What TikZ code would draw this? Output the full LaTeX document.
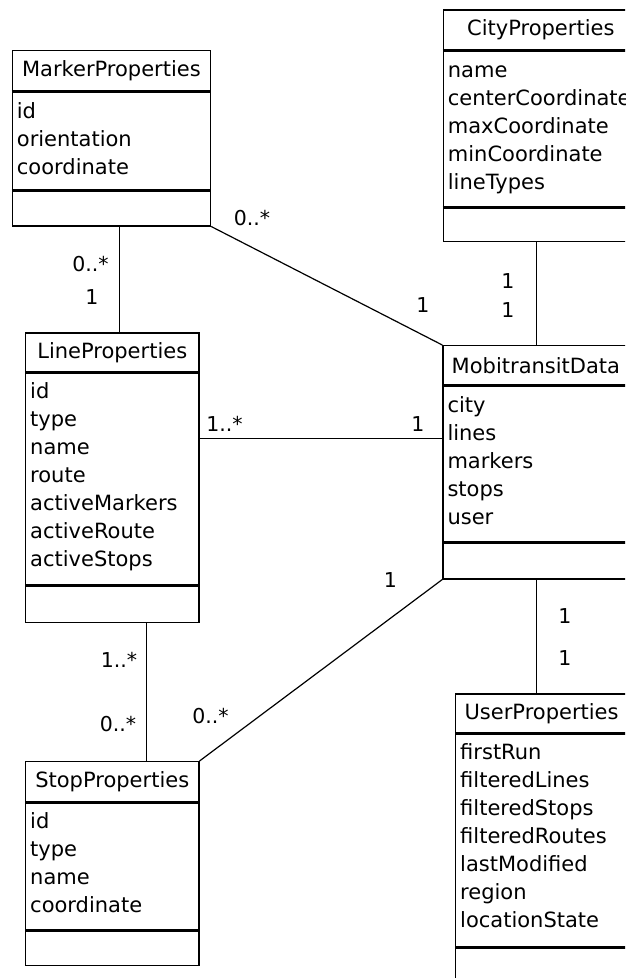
\documentclass[tikz,border=0pt]{standalone}
\usepackage{fontspec}
\setmainfont{DejaVu Sans}
\usetikzlibrary{positioning, calc}

\begin{document}
\begin{tikzpicture}[
    x=1pt, y=-1pt,
    umlclass/.style={draw, line width=1.2pt, anchor=north west, inner sep=0pt},
    classname/.style={font=\fontsize{21pt}{28pt}\selectfont, inner sep=0pt},
    attrlist/.style={font=\fontsize{21pt}{28pt}\selectfont, align=left, anchor=north west,
                     inner xsep=5pt, inner ysep=6.6pt},
    divider/.style={line width=3pt},
    assoc/.style={line width=1.2pt},
    mult/.style={font=\fontsize{20.5pt}{28pt}\selectfont, inner sep=0pt}
]
    \useasboundingbox (0,0) rectangle (625,978);
    \clip (0,0) rectangle (625,978);

    % classes
    \node[umlclass, minimum width=198.3pt, minimum height=175.3pt] (marker) at (11.7,50) {};
    \node[classname] (markertitle) at ([yshift=-20.8pt]marker.north) {MarkerProperties};
    \draw[divider] ([yshift=-41.7pt]marker.north west) -- ([yshift=-41.7pt]marker.north east);
    \draw[divider] ([yshift=-140.7pt]marker.north west) -- ([yshift=-140.7pt]marker.north east);
    \node[attrlist] (markerattrs) at ([yshift=-41.7pt]marker.north west) {\strut id\\orientation\\coordinate};

    \node[umlclass, minimum width=195pt, minimum height=231.4pt] (city) at (442.7,9.3) {};
    \node[classname] (citytitle) at ([yshift=-20.7pt]city.north) {CityProperties};
    \draw[divider] ([yshift=-41.4pt]city.north west) -- ([yshift=-41.4pt]city.north east);
    \draw[divider] ([yshift=-198pt]city.north west) -- ([yshift=-198pt]city.north east);
    \node[attrlist] (cityattrs) at ([yshift=-41.4pt]city.north west) {\strut name\\centerCoordinate\\maxCoordinate\\minCoordinate\\lineTypes};

    \node[umlclass, minimum width=173.3pt, minimum height=289.4pt] (line) at (25,332.3) {};
    \node[classname] (linetitle) at ([yshift=-20pt]line.north) {LineProperties};
    \draw[divider] ([yshift=-40pt]line.north west) -- ([yshift=-40pt]line.north east);
    \draw[divider] ([yshift=-253.4pt]line.north west) -- ([yshift=-253.4pt]line.north east);
    \node[attrlist] (lineattrs) at ([yshift=-40pt]line.north west) {\strut id\\type\\name\\route\\activeMarkers\\activeRoute\\activeStops};

    \node[umlclass, minimum width=186pt, minimum height=233.3pt] (mobi) at (442.3,345) {};
    \node[classname] (mobititle) at ([yshift=-20.3pt]mobi.north) {MobitransitData};
    \draw[divider] ([yshift=-40.7pt]mobi.north west) -- ([yshift=-40.7pt]mobi.north east);
    \draw[divider] ([yshift=-197.3pt]mobi.north west) -- ([yshift=-197.3pt]mobi.north east);
    \node[attrlist] (mobiattrs) at ([yshift=-40.7pt]mobi.north west) {\strut city\\lines\\markers\\stops\\user};

    \node[umlclass, minimum width=173.3pt, minimum height=204pt] (stop) at (25,761) {};
    \node[classname] (stoptitle) at ([yshift=-20.6pt]stop.north) {StopProperties};
    \draw[divider] ([yshift=-41.3pt]stop.north west) -- ([yshift=-41.3pt]stop.north east);
    \draw[divider] ([yshift=-169pt]stop.north west) -- ([yshift=-169pt]stop.north east);
    \node[attrlist] (stopattrs) at ([yshift=-41.3pt]stop.north west) {\strut id\\type\\name\\coordinate};

    \node[umlclass, minimum width=172pt, minimum height=290pt] (user) at (455,693.3) {};
    \node[classname] (usertitle) at ([yshift=-20pt]user.north) {UserProperties};
    \draw[divider] ([yshift=-40pt]user.north west) -- ([yshift=-40pt]user.north east);
    \draw[divider] ([yshift=-254.4pt]user.north west) -- ([yshift=-254.4pt]user.north east);
    \node[attrlist] (userattrs) at ([yshift=-40pt]user.north west) {\strut firstRun\\filteredLines\\filteredStops\\filteredRoutes\\lastModified\\region\\locationState};

    % associations
    \coordinate (ml) at ([xshift=8.4pt]marker.south);
    \coordinate (cm) at ([xshift=93.5pt]city.south west);
    \coordinate (lm) at ([yshift=-106pt]line.north east);
    \coordinate (ls) at ([xshift=34.4pt]line.south);
    \coordinate (mu) at ([xshift=94pt]mobi.south west);
    \draw[assoc] (ml) -- (ml |- line.north);
    \draw[assoc] (marker.south east) -- (mobi.north west);
    \draw[assoc] (cm) -- (cm |- mobi.north);
    \draw[assoc] (lm) -- (lm -| mobi.west);
    \draw[assoc] (mobi.south west) -- (stop.north east);
    \draw[assoc] (ls) -- (ls |- stop.north);
    \draw[assoc] (mu) -- (mu |- user.north);

    % multiplicities
    \node[mult] (mlmarker) at (90.5,264.5) {0..*};
    \node[mult] (mlline) at (92,297) {1};
    \node[mult] (mmmarker) at (252,218.5) {0..*};
    \node[mult] (mmmobi) at (423,305.5) {1};
    \node[mult] (cmcity) at (508,281) {1};
    \node[mult] (cmmobi) at (508,310) {1};
    \node[mult] (lmline) at (224.5,424) {1..*};
    \node[mult] (lmmobi) at (418,424) {1};
    \node[mult] (lsline) at (119,660) {1..*};
    \node[mult] (lsstop) at (118,724.5) {0..*};
    \node[mult] (msstop) at (210.5,716.5) {0..*};
    \node[mult] (msmobi) at (390.5,580.5) {1};
    \node[mult] (mumobi) at (565,616.5) {1};
    \node[mult] (muuser) at (565,658.5) {1};
\end{tikzpicture}
\end{document}
